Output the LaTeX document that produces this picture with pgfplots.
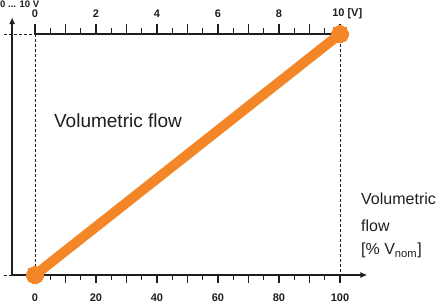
\documentclass[border=0pt]{standalone}
\usepackage{fontspec}
\setmainfont{Liberation Sans}
\setsansfont{Liberation Sans}
\usepackage{pgfplots}
\pgfplotsset{compat=1.18}
\usetikzlibrary{arrows.meta}
\definecolor{flow}{RGB}{243,134,38}
\definecolor{axc}{RGB}{30,30,30}
\begin{document}
\begin{tikzpicture}[x=1pt,y=1pt]
\useasboundingbox (0,0) rectangle (437,305);
\node[anchor=base west,font=\fontsize{9.5}{11}\selectfont\bfseries,text=axc,inner sep=0pt] at (0,297.5) {0 ... 10 V};
\begin{axis}[at={(35pt,30pt)},anchor=south west,scale only axis,
  width=305pt,height=241pt,xmin=0,xmax=100,ymin=0,ymax=100,
  hide axis,clip=false]
% dashed guides
\draw[axc,densely dashed,line width=0.8pt] (axis cs:0,100) -- (axis cs:0,0);
\draw[axc,densely dashed,line width=0.8pt] (axis cs:100,100) -- (axis cs:100,0);
\draw[axc,densely dashed,line width=0.8pt] (axis cs:-10,100) -- (axis cs:0,100);
\draw[axc,densely dashed,line width=0.8pt] (axis cs:-10,0) -- (axis cs:-7.5,0);
% left axis
\draw[axc,line width=1.4pt,-{Latex[length=7pt,width=6pt]}] (axis cs:-7.5,0) -- (axis cs:-7.5,107);
% bottom axis
\draw[axc,line width=1.4pt,-{Latex[length=7pt,width=6pt]}] (axis cs:-7.5,0) -- (axis cs:109,0);
\pgfplotsinvokeforeach{0,10,...,100}{\draw[axc,line width=1.4pt] (axis cs:#1,0) -- ++(0pt,-8.5pt);}
\pgfplotsinvokeforeach{5,15,...,95}{\draw[axc,line width=1.4pt] (axis cs:#1,0) -- ++(0pt,-5.5pt);}
\pgfplotsinvokeforeach{0,20,...,100}{\node[font=\fontsize{11}{13}\selectfont\bfseries,text=axc,inner sep=0pt] at (axis cs:#1,-9.3) {#1};}
% top axis
\draw[axc,line width=1.4pt] (axis cs:0,100) -- (axis cs:100,100);
\pgfplotsinvokeforeach{0,10,...,100}{\draw[axc,line width=1.4pt] (axis cs:#1,100) -- ++(0pt,10pt);}
\pgfplotsinvokeforeach{5,15,...,95}{\draw[axc,line width=1.4pt] (axis cs:#1,100) -- ++(0pt,6pt);}
\node[font=\fontsize{11}{13}\selectfont\bfseries,text=axc,inner sep=0pt] at (axis cs:0,108.3) {0};
\node[font=\fontsize{11}{13}\selectfont\bfseries,text=axc,inner sep=0pt] at (axis cs:20,108.3) {2};
\node[font=\fontsize{11}{13}\selectfont\bfseries,text=axc,inner sep=0pt] at (axis cs:40,108.3) {4};
\node[font=\fontsize{11}{13}\selectfont\bfseries,text=axc,inner sep=0pt] at (axis cs:60,108.3) {6};
\node[font=\fontsize{11}{13}\selectfont\bfseries,text=axc,inner sep=0pt] at (axis cs:80,108.3) {8};
\node[font=\fontsize{11}{13}\selectfont\bfseries,text=axc,inner sep=0pt,anchor=west] at (axis cs:97.4,108.3) {10 [V]};
% data
\addplot[flow,line width=10pt,mark=*,mark size=8.5pt,mark options={fill=flow,draw=flow,line width=0pt}] coordinates {(0,0) (100,100)};
% labels
\node[anchor=base west,font=\fontsize{19}{22}\selectfont,text=axc,inner sep=0pt] at (axis cs:6.2,61.4) {Volumetric flow};
\end{axis}
\node[anchor=base west,font=\fontsize{16}{18}\selectfont,text=axc,inner sep=0pt] at (361,100) {Volumetric};
\node[anchor=base west,font=\fontsize{16}{18}\selectfont,text=axc,inner sep=0pt] at (361,73) {flow};
\node[anchor=base west,font=\fontsize{16}{18}\selectfont,text=axc,inner sep=0pt] at (361,50) {[\% V\textsubscript{nom}]};
\end{tikzpicture}
\end{document}
